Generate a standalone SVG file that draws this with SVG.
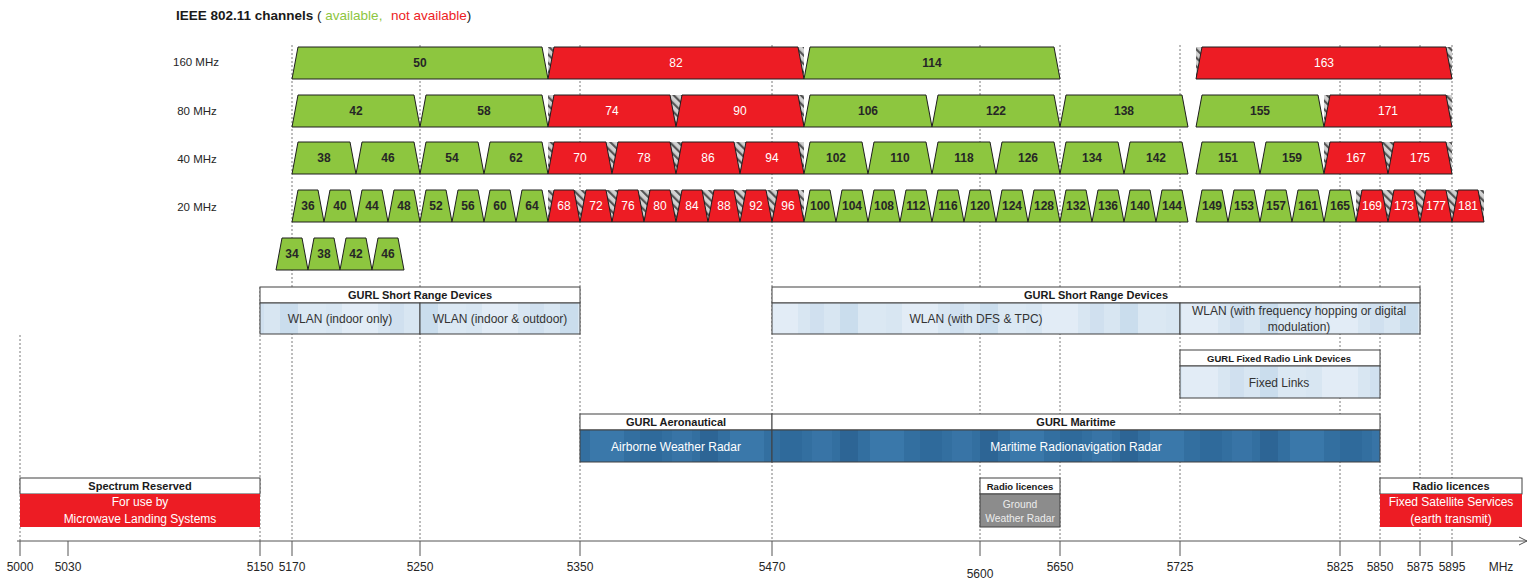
<svg xmlns="http://www.w3.org/2000/svg" xmlns:xlink="http://www.w3.org/1999/xlink" width="1529" height="579" viewBox="0 0 1529 579">
<style>
.g{fill:#8dc63f;stroke:#1e1e1e;stroke-width:1}
.r{fill:#ed1c24;stroke:#1e1e1e;stroke-width:1}
.gt{font-family:"Liberation Sans",Arial,sans-serif;font-size:12px;font-weight:bold;fill:#262626;text-anchor:middle}
.rt{font-family:"Liberation Sans",Arial,sans-serif;font-size:12px;fill:#ffffff;text-anchor:middle}
.lbl{font-family:"Liberation Sans",Arial,sans-serif;font-size:11.5px;fill:#262626;text-anchor:middle}
.ax{font-family:"Liberation Sans",Arial,sans-serif;font-size:12px;fill:#262626;text-anchor:middle}
.hd{font-family:"Liberation Sans",Arial,sans-serif;font-size:11px;font-weight:bold;fill:#1a1a1a;text-anchor:middle}
.hds{font-family:"Liberation Sans",Arial,sans-serif;font-size:9.5px;font-weight:bold;fill:#1a1a1a;text-anchor:middle}
.bt{font-family:"Liberation Sans",Arial,sans-serif;font-size:12px;fill:#333;text-anchor:middle}
.wt{font-family:"Liberation Sans",Arial,sans-serif;font-size:12px;fill:#ffffff;text-anchor:middle}
.gwt{font-family:"Liberation Sans",Arial,sans-serif;font-size:10.3px;fill:#ececec;text-anchor:middle}
.head{fill:#ffffff;stroke:#404040;stroke-width:1}
.lb{fill:url(#lightblue);stroke:#404040;stroke-width:1}
.db{fill:url(#darkblue);stroke:#404040;stroke-width:1}
.rb{fill:#ed1c24}
.gb{fill:#8c8c8c;stroke:#404040;stroke-width:1}
.hatch{fill:url(#hatch)}
.dot{stroke:#7a7a7a;stroke-width:1;stroke-dasharray:2,2;fill:none}
.tick{stroke:#555;stroke-width:1}
</style>
<defs>
<pattern id="hatch" width="6" height="6" patternUnits="userSpaceOnUse" patternTransform="rotate(-45)">
<rect width="6" height="6" fill="#d2d2d2"/>
<rect width="2.2" height="6" fill="#555"/>
</pattern>
<pattern id="lightblue" width="140" height="40" patternUnits="userSpaceOnUse">
<rect width="140" height="40" fill="#d8e6f2"/>
<rect x="0" width="18" height="40" fill="#cadded"/>
<rect x="18" width="28" height="40" fill="#dbe8f3"/>
<rect x="62" width="36" height="40" fill="#e2ecf6"/>
<rect x="110" width="14" height="40" fill="#d0e0ef"/>
</pattern>
<pattern id="darkblue" width="140" height="40" patternUnits="userSpaceOnUse">
<rect width="140" height="40" fill="#336fa0"/>
<rect x="0" width="18" height="40" fill="#2d6595"/>
<rect x="30" width="34" height="40" fill="#3a78aa"/>
<rect x="80" width="22" height="40" fill="#2f6a9b"/>
<rect x="112" width="20" height="40" fill="#3874a6"/>
</pattern>
<path id="t20" d="M0,32L6,0H26L32,32Z"/>
<path id="t40" d="M0,32L6,0H58L64,32Z"/>
<path id="t80" d="M0,32L6,0H122L128,32Z"/>
<path id="t160" d="M0,32L6,0H250L256,32Z"/>
</defs>

<rect width="1529" height="579" fill="#ffffff"/>

<g id="title">
<text x="176" y="20" font-family="'Liberation Sans',Arial,sans-serif" font-size="13.5px"><tspan font-weight="bold" fill="#1a1a1a">IEEE 802.11 channels</tspan><tspan fill="#1a1a1a"> ( </tspan><tspan fill="#8dc63f">available,</tspan><tspan x="391" fill="#ed1c24">not available</tspan><tspan fill="#1a1a1a">)</tspan></text>
</g>

<g id="row-labels">
<text class="lbl" x="196" y="66">160 MHz</text>
<text class="lbl" x="197" y="115">80 MHz</text>
<text class="lbl" x="197" y="163">40 MHz</text>
<text class="lbl" x="197" y="211">20 MHz</text>
</g>

<g id="connectors">
<line class="dot" x1="20" y1="335" x2="20" y2="541"/>
<line class="dot" x1="260" y1="287" x2="260" y2="541"/>
<line class="dot" x1="292" y1="45" x2="292" y2="541"/>
<line class="dot" x1="420" y1="45" x2="420" y2="541"/>
<line class="dot" x1="580" y1="45" x2="580" y2="541"/>
<line class="dot" x1="772" y1="45" x2="772" y2="541"/>
<line class="dot" x1="980" y1="45" x2="980" y2="541"/>
<line class="dot" x1="1060" y1="45" x2="1060" y2="541"/>
<line class="dot" x1="1180" y1="45" x2="1180" y2="541"/>
<line class="dot" x1="1340" y1="45" x2="1340" y2="541"/>
<line class="dot" x1="1380" y1="45" x2="1380" y2="541"/>
<line class="dot" x1="1420" y1="45" x2="1420" y2="541"/>
<line class="dot" x1="1452" y1="45" x2="1452" y2="541"/>
</g>

<g id="hatches">
<rect class="hatch" x="548" y="47" width="256" height="32"/>
<rect class="hatch" x="1196" y="47" width="256" height="32"/>
<rect class="hatch" x="548" y="95" width="256" height="32"/>
<rect class="hatch" x="1324" y="95" width="128" height="32"/>
<rect class="hatch" x="548" y="142" width="256" height="32"/>
<rect class="hatch" x="1324" y="142" width="128" height="32"/>
<rect class="hatch" x="548" y="190" width="256" height="32"/>
<rect class="hatch" x="1356" y="190" width="128" height="32"/>
</g>

<g id="row160">
<g id="ch160-50"><use href="#t160" x="292" y="47" class="g"/><text class="gt" x="420" y="67">50</text></g>
<g id="ch160-82"><use href="#t160" x="548" y="47" class="r"/><text class="rt" x="676" y="67">82</text></g>
<g id="ch160-114"><use href="#t160" x="804" y="47" class="g"/><text class="gt" x="932" y="67">114</text></g>
<g id="ch160-163"><use href="#t160" x="1196" y="47" class="r"/><text class="rt" x="1324" y="67">163</text></g>
</g>

<g id="row80">
<g id="ch80-42"><use href="#t80" x="292" y="95" class="g"/><text class="gt" x="356" y="115">42</text></g>
<g id="ch80-58"><use href="#t80" x="420" y="95" class="g"/><text class="gt" x="484" y="115">58</text></g>
<g id="ch80-74"><use href="#t80" x="548" y="95" class="r"/><text class="rt" x="612" y="115">74</text></g>
<g id="ch80-90"><use href="#t80" x="676" y="95" class="r"/><text class="rt" x="740" y="115">90</text></g>
<g id="ch80-106"><use href="#t80" x="804" y="95" class="g"/><text class="gt" x="868" y="115">106</text></g>
<g id="ch80-122"><use href="#t80" x="932" y="95" class="g"/><text class="gt" x="996" y="115">122</text></g>
<g id="ch80-138"><use href="#t80" x="1060" y="95" class="g"/><text class="gt" x="1124" y="115">138</text></g>
<g id="ch80-155"><use href="#t80" x="1196" y="95" class="g"/><text class="gt" x="1260" y="115">155</text></g>
<g id="ch80-171"><use href="#t80" x="1324" y="95" class="r"/><text class="rt" x="1388" y="115">171</text></g>
</g>

<g id="row40">
<g id="ch40-38"><use href="#t40" x="292" y="142" class="g"/><text class="gt" x="324" y="162">38</text></g>
<g id="ch40-46"><use href="#t40" x="356" y="142" class="g"/><text class="gt" x="388" y="162">46</text></g>
<g id="ch40-54"><use href="#t40" x="420" y="142" class="g"/><text class="gt" x="452" y="162">54</text></g>
<g id="ch40-62"><use href="#t40" x="484" y="142" class="g"/><text class="gt" x="516" y="162">62</text></g>
<g id="ch40-70"><use href="#t40" x="548" y="142" class="r"/><text class="rt" x="580" y="162">70</text></g>
<g id="ch40-78"><use href="#t40" x="612" y="142" class="r"/><text class="rt" x="644" y="162">78</text></g>
<g id="ch40-86"><use href="#t40" x="676" y="142" class="r"/><text class="rt" x="708" y="162">86</text></g>
<g id="ch40-94"><use href="#t40" x="740" y="142" class="r"/><text class="rt" x="772" y="162">94</text></g>
<g id="ch40-102"><use href="#t40" x="804" y="142" class="g"/><text class="gt" x="836" y="162">102</text></g>
<g id="ch40-110"><use href="#t40" x="868" y="142" class="g"/><text class="gt" x="900" y="162">110</text></g>
<g id="ch40-118"><use href="#t40" x="932" y="142" class="g"/><text class="gt" x="964" y="162">118</text></g>
<g id="ch40-126"><use href="#t40" x="996" y="142" class="g"/><text class="gt" x="1028" y="162">126</text></g>
<g id="ch40-134"><use href="#t40" x="1060" y="142" class="g"/><text class="gt" x="1092" y="162">134</text></g>
<g id="ch40-142"><use href="#t40" x="1124" y="142" class="g"/><text class="gt" x="1156" y="162">142</text></g>
<g id="ch40-151"><use href="#t40" x="1196" y="142" class="g"/><text class="gt" x="1228" y="162">151</text></g>
<g id="ch40-159"><use href="#t40" x="1260" y="142" class="g"/><text class="gt" x="1292" y="162">159</text></g>
<g id="ch40-167"><use href="#t40" x="1324" y="142" class="r"/><text class="rt" x="1356" y="162">167</text></g>
<g id="ch40-175"><use href="#t40" x="1388" y="142" class="r"/><text class="rt" x="1420" y="162">175</text></g>
</g>

<g id="row20">
<g id="ch20-36"><use href="#t20" x="292" y="190" class="g"/><text class="gt" x="308" y="210">36</text></g>
<g id="ch20-40"><use href="#t20" x="324" y="190" class="g"/><text class="gt" x="340" y="210">40</text></g>
<g id="ch20-44"><use href="#t20" x="356" y="190" class="g"/><text class="gt" x="372" y="210">44</text></g>
<g id="ch20-48"><use href="#t20" x="388" y="190" class="g"/><text class="gt" x="404" y="210">48</text></g>
<g id="ch20-52"><use href="#t20" x="420" y="190" class="g"/><text class="gt" x="436" y="210">52</text></g>
<g id="ch20-56"><use href="#t20" x="452" y="190" class="g"/><text class="gt" x="468" y="210">56</text></g>
<g id="ch20-60"><use href="#t20" x="484" y="190" class="g"/><text class="gt" x="500" y="210">60</text></g>
<g id="ch20-64"><use href="#t20" x="516" y="190" class="g"/><text class="gt" x="532" y="210">64</text></g>
<g id="ch20-68"><use href="#t20" x="548" y="190" class="r"/><text class="rt" x="564" y="210">68</text></g>
<g id="ch20-72"><use href="#t20" x="580" y="190" class="r"/><text class="rt" x="596" y="210">72</text></g>
<g id="ch20-76"><use href="#t20" x="612" y="190" class="r"/><text class="rt" x="628" y="210">76</text></g>
<g id="ch20-80"><use href="#t20" x="644" y="190" class="r"/><text class="rt" x="660" y="210">80</text></g>
<g id="ch20-84"><use href="#t20" x="676" y="190" class="r"/><text class="rt" x="692" y="210">84</text></g>
<g id="ch20-88"><use href="#t20" x="708" y="190" class="r"/><text class="rt" x="724" y="210">88</text></g>
<g id="ch20-92"><use href="#t20" x="740" y="190" class="r"/><text class="rt" x="756" y="210">92</text></g>
<g id="ch20-96"><use href="#t20" x="772" y="190" class="r"/><text class="rt" x="788" y="210">96</text></g>
<g id="ch20-100"><use href="#t20" x="804" y="190" class="g"/><text class="gt" x="820" y="210">100</text></g>
<g id="ch20-104"><use href="#t20" x="836" y="190" class="g"/><text class="gt" x="852" y="210">104</text></g>
<g id="ch20-108"><use href="#t20" x="868" y="190" class="g"/><text class="gt" x="884" y="210">108</text></g>
<g id="ch20-112"><use href="#t20" x="900" y="190" class="g"/><text class="gt" x="916" y="210">112</text></g>
<g id="ch20-116"><use href="#t20" x="932" y="190" class="g"/><text class="gt" x="948" y="210">116</text></g>
<g id="ch20-120"><use href="#t20" x="964" y="190" class="g"/><text class="gt" x="980" y="210">120</text></g>
<g id="ch20-124"><use href="#t20" x="996" y="190" class="g"/><text class="gt" x="1012" y="210">124</text></g>
<g id="ch20-128"><use href="#t20" x="1028" y="190" class="g"/><text class="gt" x="1044" y="210">128</text></g>
<g id="ch20-132"><use href="#t20" x="1060" y="190" class="g"/><text class="gt" x="1076" y="210">132</text></g>
<g id="ch20-136"><use href="#t20" x="1092" y="190" class="g"/><text class="gt" x="1108" y="210">136</text></g>
<g id="ch20-140"><use href="#t20" x="1124" y="190" class="g"/><text class="gt" x="1140" y="210">140</text></g>
<g id="ch20-144"><use href="#t20" x="1156" y="190" class="g"/><text class="gt" x="1172" y="210">144</text></g>
<g id="ch20-149"><use href="#t20" x="1196" y="190" class="g"/><text class="gt" x="1212" y="210">149</text></g>
<g id="ch20-153"><use href="#t20" x="1228" y="190" class="g"/><text class="gt" x="1244" y="210">153</text></g>
<g id="ch20-157"><use href="#t20" x="1260" y="190" class="g"/><text class="gt" x="1276" y="210">157</text></g>
<g id="ch20-161"><use href="#t20" x="1292" y="190" class="g"/><text class="gt" x="1308" y="210">161</text></g>
<g id="ch20-165"><use href="#t20" x="1324" y="190" class="g"/><text class="gt" x="1340" y="210">165</text></g>
<g id="ch20-169"><use href="#t20" x="1356" y="190" class="r"/><text class="rt" x="1372" y="210">169</text></g>
<g id="ch20-173"><use href="#t20" x="1388" y="190" class="r"/><text class="rt" x="1404" y="210">173</text></g>
<g id="ch20-177"><use href="#t20" x="1420" y="190" class="r"/><text class="rt" x="1436" y="210">177</text></g>
<g id="ch20-181"><use href="#t20" x="1452" y="190" class="r"/><text class="rt" x="1468" y="210">181</text></g>
</g>

<g id="row20-jp">
<g id="ch20j-34"><use href="#t20" x="276" y="238" class="g"/><text class="gt" x="292" y="258">34</text></g>
<g id="ch20j-38"><use href="#t20" x="308" y="238" class="g"/><text class="gt" x="324" y="258">38</text></g>
<g id="ch20j-42"><use href="#t20" x="340" y="238" class="g"/><text class="gt" x="356" y="258">42</text></g>
<g id="ch20j-46"><use href="#t20" x="372" y="238" class="g"/><text class="gt" x="388" y="258">46</text></g>
</g>

<g id="srd-left">
<rect class="head" x="260" y="287" width="320" height="16"/>
<text class="hd" x="420" y="299">GURL Short Range Devices</text>
<rect class="lb" x="260" y="303" width="160" height="31"/>
<rect class="lb" x="420" y="303" width="160" height="31"/>
<text class="bt" x="340" y="323">WLAN (indoor only)</text>
<text class="bt" x="500" y="323">WLAN (indoor &amp; outdoor)</text>
</g>

<g id="srd-right">
<rect class="head" x="772" y="287" width="648" height="16"/>
<text class="hd" x="1096" y="299">GURL Short Range Devices</text>
<rect class="lb" x="772" y="303" width="408" height="31"/>
<rect class="lb" x="1180" y="303" width="240" height="31"/>
<text class="bt" x="976" y="323">WLAN (with DFS &amp; TPC)</text>
<text class="bt" x="1299" y="315">WLAN (with frequency hopping or digital</text>
<text class="bt" x="1299" y="331">modulation)</text>
</g>

<g id="fixed-links">
<rect class="head" x="1180" y="350" width="200" height="16"/>
<text class="hds" x="1279" y="361.5">GURL Fixed Radio Link Devices</text>
<rect class="lb" x="1180" y="366" width="200" height="32"/>
<text class="bt" x="1279" y="387">Fixed Links</text>
</g>

<g id="aeronautical">
<rect class="head" x="580" y="414" width="192" height="16"/>
<text class="hd" x="676" y="426">GURL Aeronautical</text>
<rect class="db" x="580" y="430" width="192" height="32"/>
<text class="wt" x="676" y="451">Airborne Weather Radar</text>
</g>

<g id="maritime">
<rect class="head" x="772" y="414" width="608" height="16"/>
<text class="hd" x="1076" y="426">GURL Maritime</text>
<rect class="db" x="772" y="430" width="608" height="32"/>
<text class="wt" x="1076" y="451">Maritime Radionavigation Radar</text>
</g>

<g id="spectrum-reserved">
<rect class="head" x="20" y="478" width="240" height="16"/>
<text class="hd" x="140" y="490">Spectrum Reserved</text>
<rect class="rb" x="20" y="494" width="240" height="33"/>
<text class="wt" x="140" y="506">For use by</text>
<text class="wt" x="140" y="523">Microwave Landing Systems</text>
</g>

<g id="ground-radar">
<rect class="head" x="980" y="478" width="80" height="16"/>
<text class="hds" x="1020" y="490">Radio licences</text>
<rect class="gb" x="980" y="494" width="80" height="33"/>
<text class="gwt" x="1020" y="507.5">Ground</text>
<text class="gwt" x="1020" y="521.5">Weather Radar</text>
</g>

<g id="fss">
<rect class="head" x="1380" y="478" width="142" height="16"/>
<text class="hd" x="1451" y="490">Radio licences</text>
<rect class="rb" x="1380" y="494" width="142" height="33"/>
<text class="wt" x="1451" y="506">Fixed Satellite Services</text>
<text class="wt" x="1451" y="523">(earth transmit)</text>
</g>

<g id="axis">
<line x1="17" y1="541" x2="1527" y2="541" stroke="#555" stroke-width="1"/>
<polyline points="1519,537 1527,541 1519,545" fill="none" stroke="#555" stroke-width="1"/>
<line class="tick" x1="20" y1="541" x2="20" y2="556"/>
<line class="tick" x1="68" y1="541" x2="68" y2="556"/>
<line class="tick" x1="260" y1="541" x2="260" y2="556"/>
<line class="tick" x1="292" y1="541" x2="292" y2="556"/>
<line class="tick" x1="420" y1="541" x2="420" y2="556"/>
<line class="tick" x1="580" y1="541" x2="580" y2="556"/>
<line class="tick" x1="772" y1="541" x2="772" y2="556"/>
<line class="tick" x1="980" y1="541" x2="980" y2="556"/>
<line class="tick" x1="1060" y1="541" x2="1060" y2="556"/>
<line class="tick" x1="1180" y1="541" x2="1180" y2="556"/>
<line class="tick" x1="1340" y1="541" x2="1340" y2="556"/>
<line class="tick" x1="1380" y1="541" x2="1380" y2="556"/>
<line class="tick" x1="1420" y1="541" x2="1420" y2="556"/>
<line class="tick" x1="1452" y1="541" x2="1452" y2="556"/>
<text class="ax" x="20" y="571">5000</text>
<text class="ax" x="68" y="571">5030</text>
<text class="ax" x="260" y="571">5150</text>
<text class="ax" x="292" y="571">5170</text>
<text class="ax" x="420" y="571">5250</text>
<text class="ax" x="580" y="571">5350</text>
<text class="ax" x="772" y="571">5470</text>
<text class="ax" x="980" y="578">5600</text>
<text class="ax" x="1060" y="571">5650</text>
<text class="ax" x="1180" y="571">5725</text>
<text class="ax" x="1340" y="571">5825</text>
<text class="ax" x="1380" y="571">5850</text>
<text class="ax" x="1420" y="571">5875</text>
<text class="ax" x="1452" y="571">5895</text>
<text class="ax" x="1501" y="571">MHz</text>
</g>
</svg>
